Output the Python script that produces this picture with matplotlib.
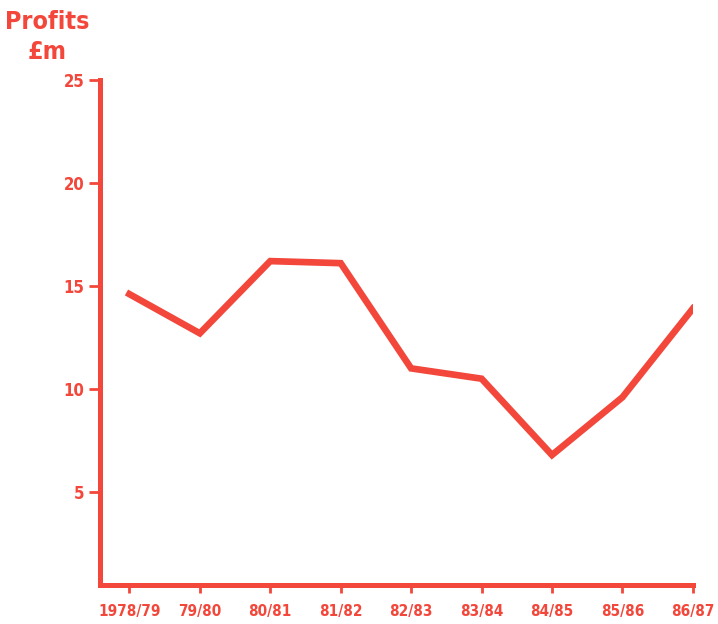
import matplotlib.pyplot as plt

years = ["1978/79", "79/80", "80/81", "81/82", "82/83", "83/84", "84/85", "85/86", "86/87"]
profits = [14.6, 12.7, 16.2, 16.1, 11.0, 10.5, 6.8, 9.6, 13.9]
yticks = [5, 10, 15, 20, 25]

red = "#f2473a"
plt.rcParams["font.family"] = ["DejaVu Sans"]
plt.rcParams["font.stretch"] = "condensed"

fig = plt.figure(figsize=(7.18, 6.24), dpi=100)
ax = fig.add_axes([0.139, 0.0625, 0.826, 0.81])

x = list(range(len(years)))
ax.plot(x, profits, color=red, lw=4.8, solid_joinstyle="miter")

ax.set_xlim(-0.42, 8)
ax.set_ylim(0.5, 25)
ax.set_xticks(x)
ax.set_xticklabels(years)
ax.set_yticks(yticks)

for s in ["top", "right"]:
    ax.spines[s].set_visible(False)
for s in ["left", "bottom"]:
    ax.spines[s].set_color(red)
    ax.spines[s].set_linewidth(3.6)
    ax.spines[s].set_capstyle("projecting")

ax.tick_params(axis="y", colors=red, length=8, width=2, pad=3, labelsize=12)
ax.tick_params(axis="x", colors=red, length=6, width=2, pad=8, labelsize=11)
for lab in ax.get_xticklabels() + ax.get_yticklabels():
    lab.set_fontweight("bold")
    lab.set_fontstretch("condensed")

fig.text(0.066, 0.965, "Profits", color=red, fontsize=18, fontweight="bold",
         fontstretch="condensed", ha="center", va="center")
fig.text(0.066, 0.917, "£m", color=red, fontsize=18, fontweight="bold",
         fontstretch="condensed", ha="center", va="center")

fig.savefig("out.png", dpi=100)
